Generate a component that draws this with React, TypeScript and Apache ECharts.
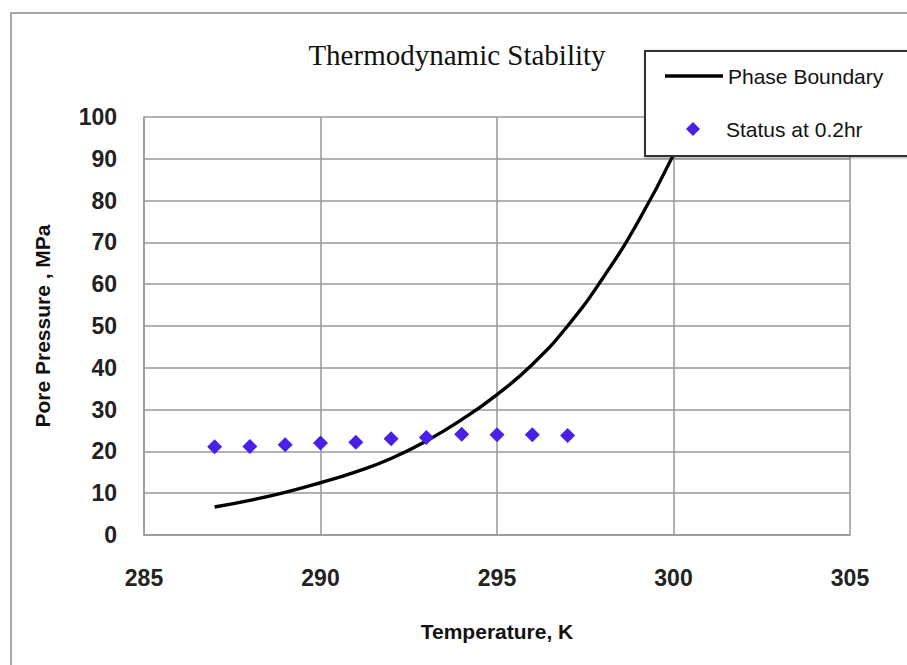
import { useEffect, useRef } from "react";
import * as echarts from "echarts";

const chartTitle = "Thermodynamic Stability";
const xAxisName = "Temperature, K";
const yAxisName = "Pore Pressure , MPa";
const boundaryName = "Phase Boundary";
const statusName = "Status at 0.2hr";

const boundaryTemps = [287, 288, 289, 290, 291, 292, 293, 294, 295, 296, 297, 298, 299, 300];
const boundaryPressures = [6.7, 8.3, 10.2, 12.5, 15.1, 18.3, 22.5, 27.6, 33.6, 40.8, 50, 61.5, 75, 91];

const statusTemps = [287, 288, 289, 290, 291, 292, 293, 294, 295, 296, 297];
const statusPressures = [21.1, 21.2, 21.6, 22, 22.2, 23, 23.3, 24.1, 24, 24, 23.8];

const xMin = 285;
const xMax = 305;
const xStep = 5;
const yMin = 0;
const yMax = 100;
const yStep = 10;

const SANS = "'Liberation Sans', Arial, sans-serif";

export default function App() {
  const ref = useRef<HTMLDivElement>(null);
  useEffect(() => {
    const chart = echarts.init(ref.current!, null, { renderer: "svg" });
    const boundaryData = boundaryTemps.map((t, i) => [t, boundaryPressures[i]]);
    const statusData = statusTemps.map((t, i) => [t, statusPressures[i]]);
    chart.setOption({
      animation: false,
      backgroundColor: "#ffffff",
      title: {
        text: chartTitle,
        left: 457,
        textAlign: "center",
        top: 40,
        padding: 0,
        textStyle: {
          fontFamily: "'Liberation Serif', 'Times New Roman', serif",
          fontWeight: "normal",
          fontSize: 29,
          color: "#111",
        },
      },
      grid: { left: 144, top: 117, right: 57, bottom: 130, containLabel: false },
      xAxis: {
        type: "value",
        min: xMin,
        max: xMax,
        interval: xStep,
        name: xAxisName,
        nameLocation: "middle",
        nameGap: 86,
        nameTextStyle: { fontFamily: SANS, fontWeight: "bold", fontSize: 21, color: "#111" },
        axisLine: { show: true, lineStyle: { color: "#999", width: 1.5 } },
        axisTick: { show: false },
        splitLine: { show: true, lineStyle: { color: "#999", width: 1.5 } },
        axisLabel: { fontFamily: SANS, fontWeight: "bold", fontSize: 23, color: "#222", margin: 31 },
      },
      yAxis: {
        type: "value",
        min: yMin,
        max: yMax,
        interval: yStep,
        name: yAxisName,
        nameLocation: "middle",
        nameGap: 91,
        nameTextStyle: { fontFamily: SANS, fontWeight: "bold", fontSize: 21, color: "#111" },
        axisLine: { show: true, lineStyle: { color: "#999", width: 1.5 } },
        axisTick: { show: false },
        splitLine: { show: true, lineStyle: { color: "#999", width: 1.5 } },
        axisLabel: { fontFamily: SANS, fontWeight: "bold", fontSize: 23, color: "#222", margin: 27 },
      },
      legend: [
        {
          data: [{ name: boundaryName, icon: "path://M0,0 L58,0 L58,3.4 L0,3.4 Z" }],
          left: 665,
          top: 65,
          itemWidth: 58,
          itemHeight: 3.4,
          selectedMode: false,
          padding: 0,
          textStyle: { fontFamily: SANS, fontSize: 21, color: "#111", lineHeight: 22 },
        },
        {
          data: [statusName],
          left: 686,
          top: 118,
          itemWidth: 14,
          itemHeight: 14,
          selectedMode: false,
          padding: 0,
          textStyle: { fontFamily: SANS, fontSize: 21, color: "#111", lineHeight: 22, padding: [0, 0, 0, 21] },
        },
      ],
      graphic: [
        {
          type: "rect",
          z: 0,
          silent: true,
          shape: { x: 11, y: 13, width: 1000, height: 1000 },
          style: { fill: "none", stroke: "#a6a6a6", lineWidth: 2 },
        },
        {
          type: "rect",
          z: 3,
          silent: true,
          shape: { x: 645, y: 51, width: 400, height: 105 },
          style: {
            fill: "#ffffff",
            stroke: "#333",
            lineWidth: 2,
            shadowBlur: 3,
            shadowColor: "rgba(0,0,0,0.35)",
            shadowOffsetX: 1,
            shadowOffsetY: 1,
          },
        },
      ],
      series: [
        {
          name: boundaryName,
          type: "line",
          data: boundaryData,
          smooth: 0.5,
          showSymbol: false,
          symbol: "none",
          lineStyle: { color: "#000", width: 3.4 },
          itemStyle: { color: "#000" },
          z: 2,
        },
        {
          name: statusName,
          type: "scatter",
          data: statusData,
          symbol: "diamond",
          symbolSize: 15,
          itemStyle: { color: "#4a1fe6", opacity: 1 },
          z: 2,
        },
      ],
    });
    return () => chart.dispose();
  }, []);
  return (
    <div
      ref={ref}
      style={{ position: "fixed", left: 0, top: 0, width: 907, height: 665, background: "#fff" }}
    />
  );
}
